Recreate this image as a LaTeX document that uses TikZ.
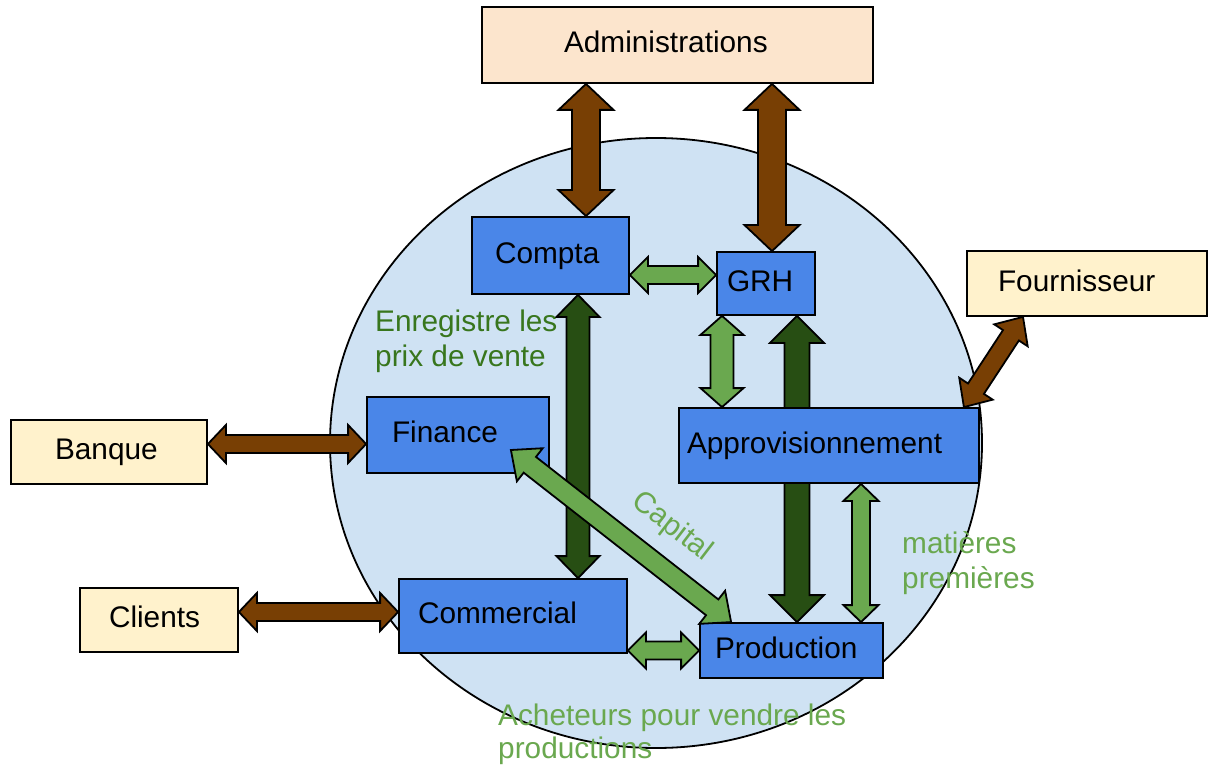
\documentclass[tikz,border=0pt]{standalone}
\usepackage{fontspec}
\setmainfont{Liberation Sans}
\usetikzlibrary{calc,backgrounds}

\definecolor{bleu}{HTML}{4A86E8}
\definecolor{cercle}{HTML}{CFE2F3}
\definecolor{peche}{HTML}{FCE5CD}
\definecolor{beige}{HTML}{FFF2CC}
\definecolor{brun}{HTML}{783F04}
\definecolor{vertfonce}{HTML}{274E13}
\definecolor{vertclair}{HTML}{6AA84F}
\definecolor{textevert}{HTML}{38761D}

% double fleche pleine : couleur, demi-corps, demi-pointe, longueur pointe, depart, arrivee
\newcommand{\flux}[6]{%
  \filldraw[fill=#1, line width=1.8pt, line join=miter]
    (#5) -- ($(#5)!#4!(#6)!#3!90:(#6)$) -- ($(#5)!#4!(#6)!#2!90:(#6)$)
    -- ($(#6)!#4!(#5)!#2!-90:(#5)$) -- ($(#6)!#4!(#5)!#3!-90:(#5)$)
    -- (#6) -- ($(#6)!#4!(#5)!#3!90:(#5)$) -- ($(#6)!#4!(#5)!#2!90:(#5)$)
    -- ($(#5)!#4!(#6)!#2!-90:(#6)$) -- ($(#5)!#4!(#6)!#3!-90:(#6)$) -- cycle;}

\begin{document}
\begin{tikzpicture}[x=1pt, y=-1pt, font=\fontsize{29.8}{35}\selectfont,
  service/.style={draw, fill=bleu, line width=1.8pt, align=left,
    text height=21.5pt, text depth=6pt, inner ysep=0pt},
  partenaire/.style={service, fill=beige},
  legende/.style={anchor=north west, inner sep=0pt, align=left}]
\useasboundingbox (0,0) rectangle (1209,767);

% services de l'entreprise
\node[service, minimum height=77pt, text width=111pt, inner xsep=23pt] (compta) at (550.5,255.5) {Compta};
\node[service, minimum height=63pt, text width=78pt, inner xsep=10pt] (grh) at (766,283.5) {GRH};
\node[service, minimum height=75pt, text width=284pt, inner xsep=8pt] (appro) at (829,445.5) {Approvisionnement};
\node[service, minimum height=76pt, text width=132pt, inner xsep=25pt] (finance) at (458,435) {Finance};
\node[service, minimum height=74pt, text width=190pt, inner xsep=19pt] (commercial) at (513,616) {Commercial};
\node[service, minimum height=55pt, text width=153pt, inner xsep=15pt] (production) at (791.5,650.5) {Production};

% partenaires
\node[service, fill=peche, minimum height=76pt, text width=227pt, inner xsep=82pt] (admin) at (677.5,45) {Administrations};
\node[partenaire, minimum height=64pt, text width=108pt, inner xsep=44pt] (banque) at (109,452) {Banque};
\node[partenaire, minimum height=64pt, text width=100pt, inner xsep=29pt] (clients) at (159,620) {Clients};
\node[partenaire, minimum height=65pt, text width=178pt, inner xsep=31pt] (fournisseur) at (1087,283.5) {Fournisseur};

% bouts des fleches
\coordinate (ac1) at ([xshift=35.5pt]compta.north);
\coordinate (ac2) at (admin.south -| ac1);
\coordinate (ag1) at ([xshift=6pt]grh.north);
\coordinate (ag2) at (admin.south -| ag1);
\coordinate (cg1) at ([yshift=-19.5pt]compta.east);
\coordinate (cg2) at (grh.west |- cg1);
\coordinate (ga1) at ([xshift=-44pt]grh.south);
\coordinate (ga2) at (appro.north -| ga1);
\coordinate (gp1) at ([xshift=31pt]grh.south);
\coordinate (gp2) at (production.north -| gp1);
\coordinate (cc1) at ([xshift=27.5pt]compta.south);
\coordinate (cc2) at (commercial.north -| cc1);
\coordinate (bf1) at ([yshift=8pt]banque.east);
\coordinate (bf2) at (finance.west |- bf1);
\coordinate (kc1) at ([yshift=8pt]clients.east);
\coordinate (kc2) at (commercial.west |- kc1);
\coordinate (cp1) at (commercial.east |- production.west);
\coordinate (ap1) at ([xshift=32pt]appro.south);
\coordinate (ap2) at (production.north -| ap1);
\coordinate (fa1) at ([xshift=-64pt]fournisseur.south);
\coordinate (fa2) at ([xshift=-16pt]appro.north east);
\coordinate (fp1) at ([xshift=-39pt,yshift=-15pt]finance.east);
\coordinate (fp2) at ([xshift=32pt]production.north west);

\begin{scope}[on background layer]
\filldraw[fill=cercle, line width=1.8pt] (656,443) ellipse [x radius=326, y radius=305];
\end{scope}

\begin{scope}[on background layer]
\flux{brun}{14pt}{27.5pt}{26pt}{ac2}{ac1}
\flux{brun}{14pt}{27.5pt}{26pt}{ag2}{ag1}
\flux{brun}{9pt}{19pt}{18pt}{bf1}{bf2}
\flux{brun}{9pt}{19pt}{18pt}{kc1}{kc2}
\flux{brun}{9.5pt}{20pt}{22pt}{fa1}{fa2}
\flux{vertfonce}{11.5pt}{21.5pt}{22pt}{cc1}{cc2}
\flux{vertfonce}{12.5pt}{27pt}{27pt}{gp1}{gp2}
\flux{vertclair}{9pt}{18pt}{18pt}{cg1}{cg2}
\flux{vertclair}{11.5pt}{21.5pt}{19pt}{ga1}{ga2}
\flux{vertclair}{9pt}{17.5pt}{17pt}{ap1}{ap2}
\flux{vertclair}{9pt}{18pt}{18pt}{cp1}{production.west}
\end{scope}

\flux{vertclair}{10pt}{21pt}{24pt}{fp1}{fp2}

% textes
\node[legende, text=textevert] (prix) at (375,310) {Enregistre les\\prix de vente};
\node[legende, text=vertclair] (matieres) at (902,531) {matières\\premières};
\node[legende, text=vertclair, font=\fontsize{29.8}{33}\selectfont] (acheteurs) at (498,703.5) {Acheteurs pour vendre les\\productions};
\node[text=vertclair, rotate=-37.5] (capital) at (672,527) {Capital};
\end{tikzpicture}
\end{document}
